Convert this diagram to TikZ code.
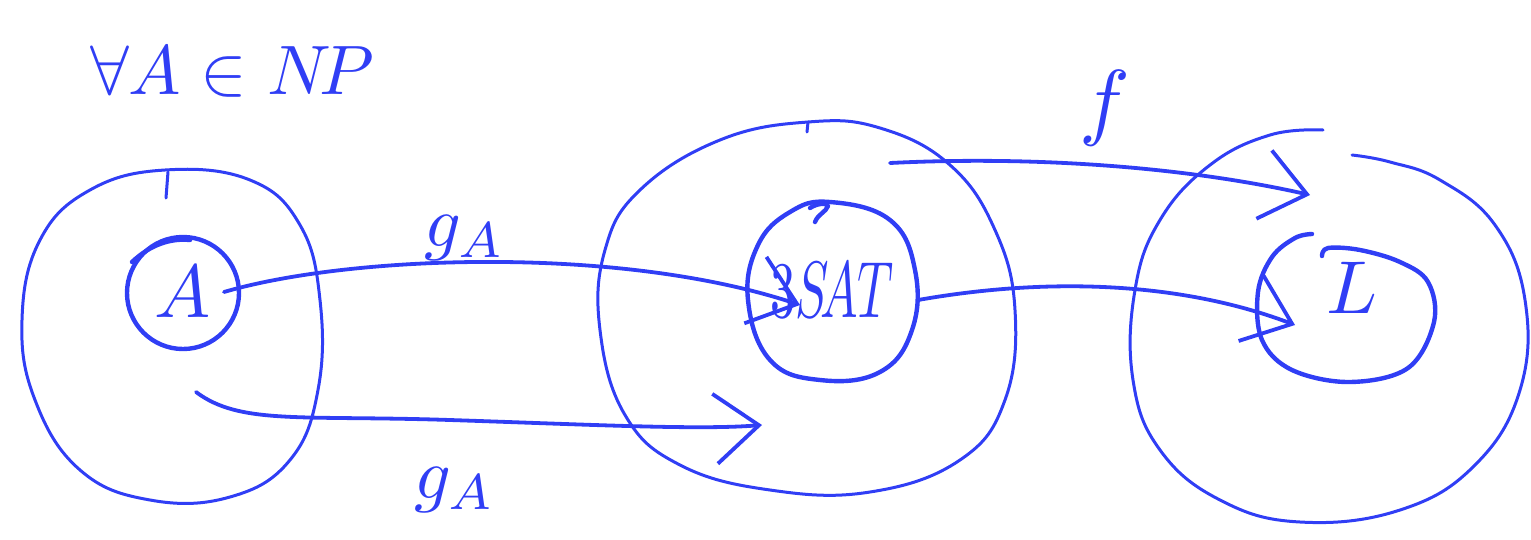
\documentclass[tikz,border=0pt]{standalone}
\usetikzlibrary{arrows.meta,calc}
\definecolor{ink}{RGB}{48,62,245}
\newcommand{\hsz}[2]{\scalebox{#1}{#2}}
\begin{document}
\begin{tikzpicture}[x=1pt,y=-1pt, line cap=round, line join=round,
  pen/.style={draw=ink, line width=3pt},
  heavy/.style={draw=ink, line width=4.4pt},
  conn/.style={draw=ink, line width=3.8pt, -{Straight Barb[length=44pt,width=70pt]}},
  lbl/.style={text=ink, inner sep=0pt}]
\useasboundingbox (0,0) rectangle (1531,539);

% outer sets
\draw[pen] plot[smooth cycle, tension=0.7] coordinates {(165,170)(250,180)(300,225)(320,300)(318,390)(290,460)(230,497)(150,500)(80,470)(35,400)(22,320)(40,240)(90,190)};
\draw[pen] (168,172) -- (166,198);
\draw[pen] plot[smooth cycle, tension=0.7] coordinates {(808,122)(880,128)(950,165)(995,230)(1015,310)(1005,400)(960,460)(870,492)(770,490)(680,465)(625,415)(600,330)(605,250)(640,190)(720,140)};
\draw[pen] (808,122) -- (807,132);
\draw[pen] plot[smooth, tension=0.7] coordinates {(1323,130)(1270,135)(1210,165)(1160,220)(1135,290)(1133,380)(1160,450)(1220,500)(1300,522)(1400,510)(1475,465)(1520,390)(1525,300)(1495,225)(1440,180)(1390,162)(1352,155)};

% inner sets
\node[circle, heavy, minimum size=112pt, inner sep=0pt] (A) at (183,293) {};
\draw[heavy] (132,262) .. controls (150,245) and (170,238) .. (190,240);
\node[lbl] (Alab) at (183,292) {\hsz{7.5}{$A$}};

\draw[heavy] plot[smooth cycle, tension=0.7] coordinates {(830,202)(890,220)(915,270)(912,330)(880,372)(820,380)(770,360)(748,300)(758,245)(790,212)};
\draw[heavy] (810,208) .. controls (816,204) and (826,202) .. (828,206) .. controls (826,212) and (818,214) .. (815,222);
\node[lbl] (S) at (832,290) {\scalebox{5}[8]{$3S\!AT$}};

\draw[heavy] plot[smooth, tension=0.6] coordinates {(1312,234)(1295,238)(1272,257)(1258,292)(1262,340)(1292,370)(1350,382)(1408,368)(1434,322)(1428,282)(1400,262)(1360,250)(1328,248)(1322,256)};
\node[lbl] (L) at (1352,288) {\hsz{7.5}{$L$}};

% labels
\node[lbl] (title) at (232,72) {\hsz{7}{$\forall A\in N\!P$}};
\node[lbl] (g1) at (465,238) {\hsz{7.2}{$g_A$}};
\node[lbl] (g2) at (455,490) {\hsz{7.2}{$g_A$}};
\node[lbl] (f) at (1105,108) {\hsz{8.5}{$f$}};

% connector end points
\coordinate (gAs) at (224,292);
\coordinate (gAe) at (800,305);
\coordinate (gBs) at (196,392);
\coordinate (gBe) at (762,425);
\coordinate (fs) at (890,163);
\coordinate (fe) at (1310,195);
\coordinate (Ls) at (918,300);
\coordinate (Le) at (1295,325);

\draw[conn] (gAs) .. controls (350,255) and (620,245) .. (gAe);
\draw[conn] (gBs) .. controls (240,425) and (300,415) .. (450,420) .. controls (600,425) and (700,430) .. (gBe);
\draw[conn] (fs) .. controls (1050,155) and (1200,170) .. (fe);
\draw[conn] (Ls) .. controls (1060,275) and (1190,285) .. (Le);
\end{tikzpicture}
\end{document}
